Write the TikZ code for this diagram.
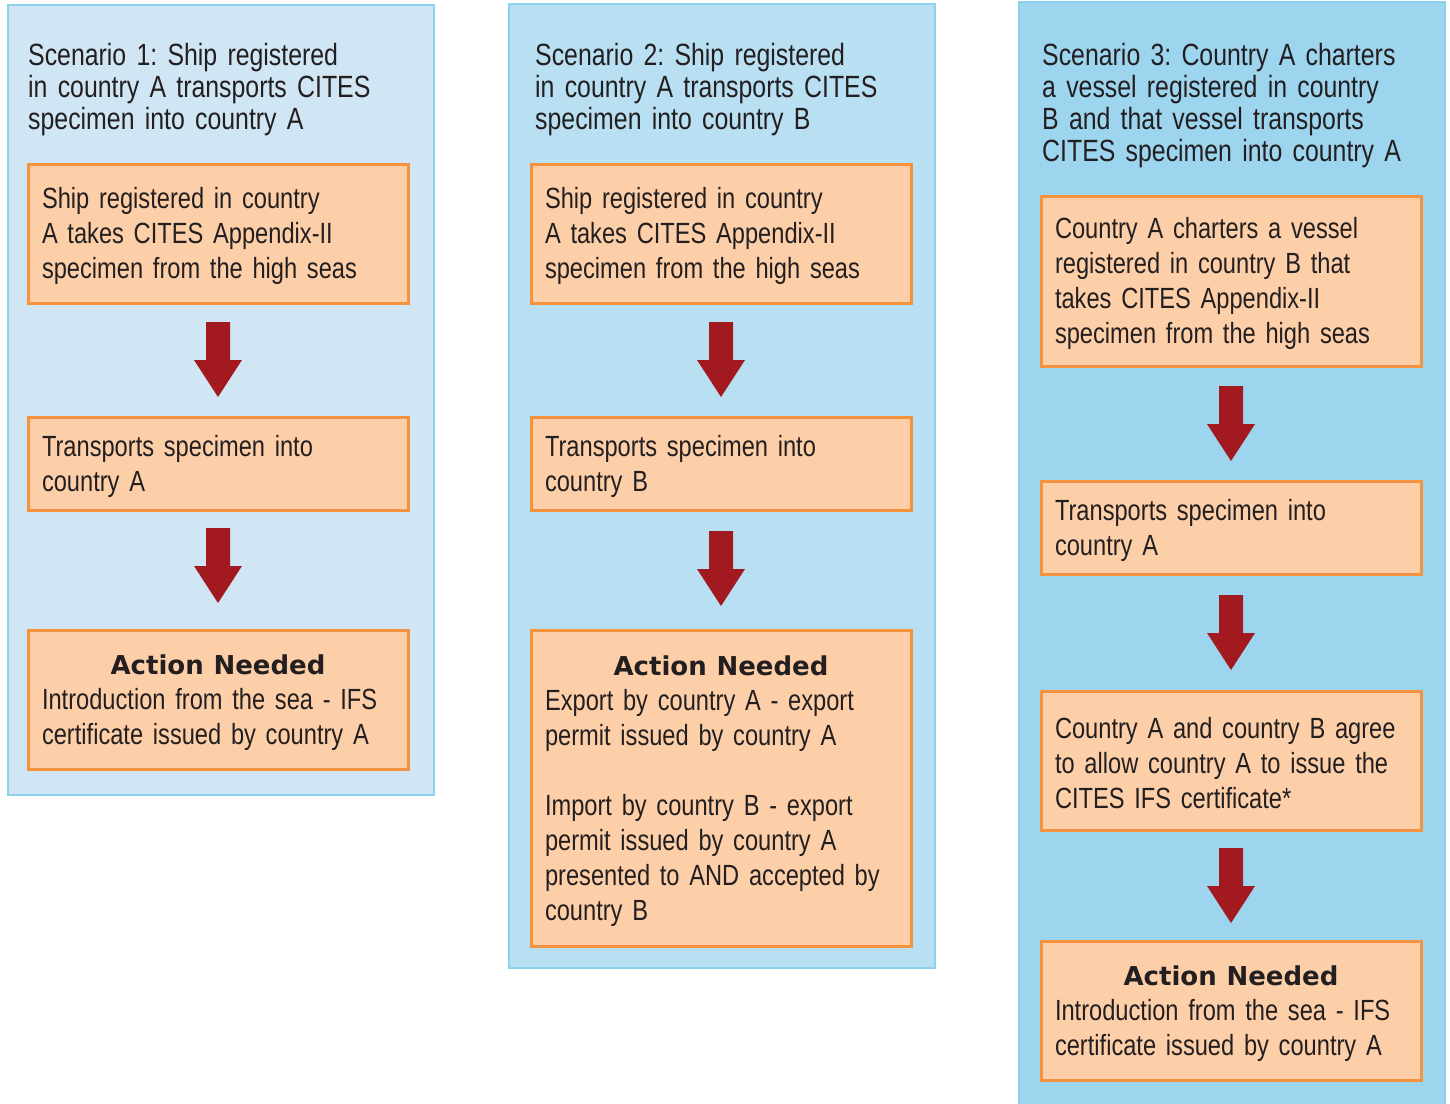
\documentclass[tikz,border=0pt]{standalone}
\usepackage{fontspec}
\setmainfont{Liberation Sans}[FakeStretch=0.81]
\newfontfamily\actfont{DejaVu Sans}
\usetikzlibrary{calc}
\frenchspacing
\definecolor{panelA}{HTML}{D0E6F4}
\definecolor{panelB}{HTML}{B8DFF2}
\definecolor{panelC}{HTML}{9DD5EF}
\definecolor{panelline}{HTML}{8AD2EE}
\definecolor{boxfill}{HTML}{FDCFA8}
\definecolor{boxline}{HTML}{F4923D}
\definecolor{arrowred}{HTML}{A21A1F}
\definecolor{textcol}{HTML}{231F20}
\tikzset{
  panelbox/.style={draw=panelline, line width=2.5pt, anchor=north west, inner sep=0pt, outer sep=0pt},
  stepbox/.style={draw=boxline, fill=boxfill, line width=3pt, anchor=north west,
    minimum width=380pt, align=left, text width=352pt, inner xsep=14pt, inner ysep=0pt,
    outer sep=0pt, text height=27pt, font=\fontsize{29.2}{35}\selectfont\frenchspacing, text=textcol},
  titletext/.style={anchor=base west, align=left, text width=400pt, inner sep=0pt,
    font=\fontsize{30.7}{32}\selectfont\frenchspacing, text=textcol},
  pics/downarrow/.style={code={\fill[arrowred] (-12,0) -- (-12,38) -- (-24,38) -- (0,75) -- (24,38) -- (12,38) -- (12,0) -- cycle;}}
}
\newcommand\actionhead{\makebox[\hsize]{\actfont\bfseries\fontsize{26}{35}\selectfont Action Needed}}
\begin{document}
\begin{tikzpicture}[x=1pt,y=-1pt]
\clip (0,0) rectangle (1450,1103);
\fill[white] (0,0) rectangle (1450,1103);
% panels
\node[panelbox, fill=panelA, minimum width=426pt, minimum height=790pt] (p1) at (8,5) {};
\node[panelbox, fill=panelB, minimum width=426pt, minimum height=964pt] (p2) at (509,4) {};
\node[panelbox, fill=panelC, minimum width=426pt, minimum height=1200pt] (p3) at (1019,2) {};
% titles
\node[titletext] (t1) at (28,65) {Scenario 1: Ship registered\\in country A transports CITES\\specimen into country A};
\node[titletext] (t2) at (535,65) {Scenario 2: Ship registered\\in country A transports CITES\\specimen into country B};
\node[titletext] (t3) at (1042,65) {Scenario 3: Country A charters\\a vessel registered in country\\B and that vessel transports\\CITES specimen into country A};
% scenario 1
\node[stepbox, minimum height=139pt] (a1) at (28,164) {Ship registered in country\\A takes CITES Appendix-II\\specimen from the high seas};
\node[stepbox, minimum height=93pt] (a2) at (28,417) {Transports specimen into\\country A};
\node[stepbox, minimum height=139pt] (a3) at (28,630) {\actionhead\\Introduction from the sea - IFS\\certificate issued by country A};
% scenario 2
\node[stepbox, minimum height=139pt] (b1) at (531,164) {Ship registered in country\\A takes CITES Appendix-II\\specimen from the high seas};
\node[stepbox, minimum height=93pt] (b2) at (531,417) {Transports specimen into\\country B};
\node[stepbox, minimum height=316pt] (b3) at (531,630) {\actionhead\\Export by country A - export\\permit issued by country A\\[35pt]Import by country B - export\\permit issued by country A\\presented to AND accepted by\\country B};
% scenario 3
\node[stepbox, minimum height=170pt] (c1) at (1041,196) {Country A charters a vessel\\registered in country B that\\takes CITES Appendix-II\\specimen from the high seas};
\node[stepbox, minimum height=93pt] (c2) at (1041,481) {Transports specimen into\\country A};
\node[stepbox, minimum height=139pt] (c3) at (1041,691) {Country A and country B agree\\to allow country A to issue the\\CITES IFS certificate*};
\node[stepbox, minimum height=139pt] (c4) at (1041,941) {\actionhead\\Introduction from the sea - IFS\\certificate issued by country A};
% arrows
\pic at ($(a1.south)+(0,19)$) {downarrow};
\pic at ($(a2.south)+(0,18)$) {downarrow};
\pic at ($(b1.south)+(0,19)$) {downarrow};
\pic at ($(b2.south)+(0,21)$) {downarrow};
\pic at ($(c1.south)+(0,20)$) {downarrow};
\pic at ($(c2.south)+(0,21)$) {downarrow};
\pic at ($(c3.south)+(0,18)$) {downarrow};
\end{tikzpicture}
\end{document}
